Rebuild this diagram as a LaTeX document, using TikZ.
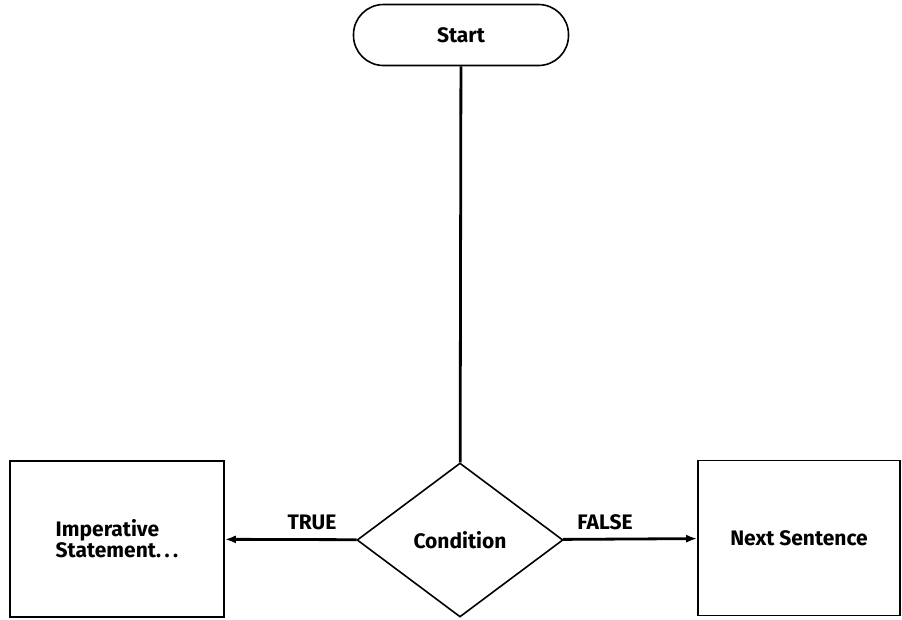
\documentclass[tikz,border=0pt]{standalone}
\usepackage{fontspec}
\setmainfont{Fira Sans}
\usetikzlibrary{shapes.geometric}
\usetikzlibrary{positioning}
\usetikzlibrary{arrows.meta}

\begin{document}
\begin{tikzpicture}[x=1pt,y=-1pt]
\tikzset{every node/.style={font=\fontsize{21}{21}\selectfont\bfseries},
  block/.style={draw,line width=1.6pt,minimum width=214pt,minimum height=156pt,inner sep=0pt},
  flow/.style={line width=2.8pt},
  branch/.style={flow,-{Latex[length=11pt,width=8pt]}}}
\useasboundingbox (0,0) rectangle (902,619);

\node[draw,line width=1.6pt,rounded corners=30pt,minimum width=215pt,minimum height=61pt] (start) at (461,35) {Start};
\node[diamond,draw,line width=1.6pt,inner sep=0pt,minimum width=206pt,minimum height=154pt] (cond) at (460,540) {Condition};

\node[block] (imp) at (117,539) {};
\node[align=left] (imptext) at (imp.center) {Imperative\\Statement.\,.\,.};
\node[block,minimum width=202pt,minimum height=155pt] (next) at (799,538) {Next Sentence};

\draw[flow] (start) -- (cond);
\draw[branch] (cond) -- (imp);
\draw[branch] (cond) -- (next);

\path (312,522) node(truelbl) {TRUE};
\path (605,522) node(falselbl) {FALSE};

\end{tikzpicture}
\end{document}
